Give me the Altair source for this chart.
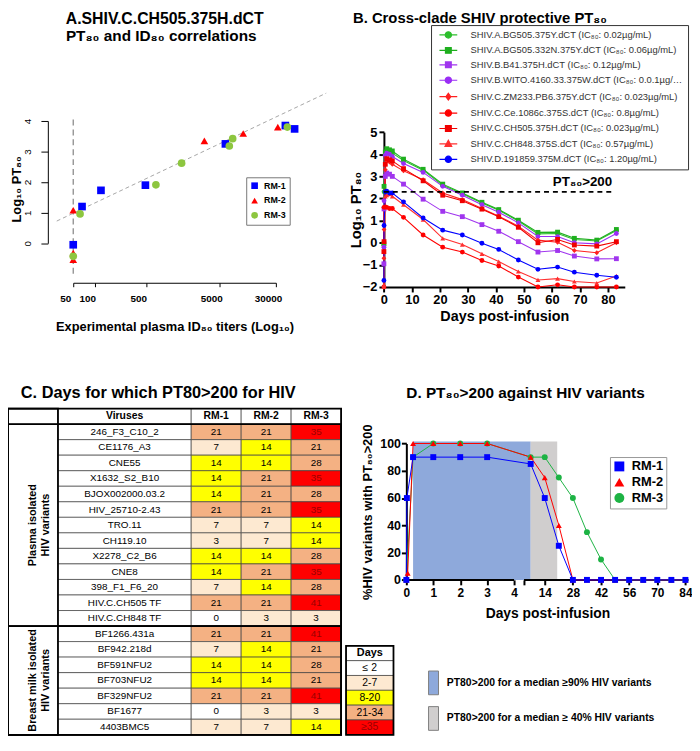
import altair as alt
import pandas as pd

W, H = 692, 732
FONT = "Liberation Sans"

# ============================ DATA ============================
# ---- Panel A : PT80 vs experimental plasma ID80 titers
A_ANIMALS = ["RM-1", "RM-2", "RM-3"]
A_RM1_ID80 = [50, 66, 120, 488, 6100, 40500, 54200]
A_RM1_PT80 = [-0.05, 1.2, 1.73, 1.9, 3.25, 3.85, 3.74]
A_RM2_ID80 = [50, 50, 50, 3140, 10700, 31900]
A_RM2_PT80 = [1.08, -0.32, -0.54, 3.35, 3.59, 3.8]
A_RM3_ID80 = [62, 50, 680, 1530, 6900, 7670, 43100]
A_RM3_PT80 = [0.96, -0.43, 1.91, 2.62, 3.18, 3.42, 3.8]
A_FIT_ID80 = [29.7, 147000]
A_FIT_PT80 = [0.725, 4.91]
A_LOD_ID80 = [50]
A_LOD_PT80 = [-1.0, 4.05]
A_X_TICKS = [50, 100, 500, 5000, 30000]

# ---- Panel B : cross-clade SHIV protective PT80
B_SERIES = [
    "SHIV.A.BG505.375Y.dCT (IC₈₀: 0.02µg/mL)",
    "SHIV.A.BG505.332N.375Y.dCT (IC₈₀: 0.06µg/mL)",
    "SHIV.B.B41.375H.dCT (IC₈₀: 0.12µg/mL)",
    "SHIV.B.WITO.4160.33.375W.dCT (IC₈₀: 0.0.1µg/mL)",
    "SHIV.C.ZM233.PB6.375Y.dCT (IC₈₀: 0.023µg/mL)",
    "SHIV.C.Ce.1086c.375S.dCT (IC₈₀: 0.8µg/mL)",
    "SHIV.C.CH505.375H.dCT (IC₈₀: 0.023µg/mL)",
    "SHIV.C.CH848.375S.dCT (IC₈₀: 0.57µg/mL)",
    "SHIV.D.191859.375M.dCT (IC₈₀: 1.20µg/mL)",
]
B_DAYS = [0, 0.05, 0.5, 1, 2, 3, 7, 14, 21, 28, 35, 41, 48, 55, 62, 68, 76, 83]
B_BG505_375Y = [-0.1, 2.3, 4.0, 4.15, 4.1, 4.05, 3.72, 3.28, 2.6, 2.22, 1.8, 1.47, 0.98, 0.4, 0.42, 0.15, 0.08, 0.55]
B_BG505_332N = [-0.05, 2.55, 4.1, 4.25, 4.2, 4.15, 3.78, 3.32, 2.65, 2.25, 1.83, 1.5, 1.02, 0.47, 0.48, 0.2, 0.12, 0.6]
B_B41 = [-0.95, 1.53, 3.0, 3.15, 3.1, 3.0, 2.65, 1.97, 1.42, 1.18, 0.82, 0.52, 0.05, -0.42, -0.35, -0.6, -0.73, -0.72]
B_WITO = [-0.2, 1.9, 3.95, 4.05, 4.0, 3.9, 3.58, 3.18, 2.55, 2.15, 1.72, 1.38, 0.9, 0.28, 0.28, 0.0, -0.05, 0.42]
B_ZM233 = [-0.7, 0.6, 3.3, 3.7, 3.65, 3.55, 3.25, 2.85, 2.25, 1.95, 1.55, 1.2, 0.75, 0.12, 0.02, -0.35, -0.45, 0.0]
B_CE1086 = [-2.0, 1.6, 1.62, 1.6, 1.55, 1.55, 1.15, 0.35, -0.2, -0.42, -0.8, -1.05, -1.55, -2.0, -1.9, -2.0, -2.0, -2.0]
B_CH505 = [-0.4, 0.05, 3.55, 3.8, 3.75, 3.7, 3.35, 2.8, 2.15, 1.9, 1.52, 1.18, 0.7, 0.0, 0.15, -0.1, -0.15, 0.05]
B_CH848 = [-2.0, -1.9, 2.1, 2.15, 2.2, 2.1, 1.72, 1.05, 0.2, -0.08, -0.5, -0.85, -1.3, -1.68, -1.62, -1.75, -1.82, -1.5]
B_191859 = [-1.7, 0.78, 2.3, 2.33, 2.25, 2.25, 1.85, 1.12, 0.57, 0.35, -0.02, -0.3, -0.78, -1.2, -1.1, -1.33, -1.47, -1.56]
B_VALUES = [B_BG505_375Y, B_BG505_332N, B_B41, B_WITO, B_ZM233, B_CE1086, B_CH505, B_CH848, B_191859]
B_THRESHOLD = 2.3
B_THRESHOLD_END = 81.5

# ---- Panel C : days with PT80>200
PLASMA_VIRUSES = ["246_F3_C10_2", "CE1176_A3", "CNE55", "X1632_S2_B10", "BJOX002000.03.2",
                  "HIV_25710-2.43", "TRO.11", "CH119.10", "X2278_C2_B6", "CNE8",
                  "398_F1_F6_20", "HIV.C.CH505 TF", "HIV.C.CH848 TF"]
MILK_VIRUSES = ["BF1266.431a", "BF942.218d", "BF591NFU2", "BF703NFU2", "BF329NFU2", "BF1677", "4403BMC5"]
RM1_DAYS = [21, 7, 14, 14, 14, 21, 7, 3, 14, 14, 7, 21, 0, 21, 7, 14, 14, 21, 0, 7]
RM2_DAYS = [21, 14, 14, 21, 21, 21, 7, 7, 14, 21, 14, 21, 3, 21, 14, 14, 14, 21, 3, 7]
RM3_DAYS = [35, 21, 28, 35, 28, 35, 14, 14, 28, 35, 28, 41, 3, 41, 21, 28, 21, 41, 3, 14]
GROUP_LABELS = ["Plasma isolated\nHIV variants", "Breast milk isolated\nHIV variants"]
TABLE_HEADER = ["Viruses", "RM-1", "RM-2", "RM-3"]
DAY_BINS = ["≤ 2", "2-7", "8-20", "21-34", "≥35"]

# ---- Panel D : % variants with PT80>200
D_ANIMALS = ["RM-1", "RM-2", "RM-3"]
D_RM1_DAYS = [0, 0.02, 0.25, 1, 2, 3, 7, 14, 21, 28, 35, 42, 49, 56, 63, 70, 77, 84]
D_RM1_PCT = [0, 60, 90, 90, 90, 90, 85, 60, 25, 0, 0, 0, 0, 0, 0, 0, 0, 0]
D_RM2_DAYS = [0, 0.05, 0.25, 1, 2, 3, 7, 14, 21, 28, 35, 42, 49, 56, 63, 70, 77, 84]
D_RM2_PCT = [0, 5, 100, 100, 100, 100, 90, 75, 40, 0, 0, 0, 0, 0, 0, 0, 0, 0]
D_RM3_DAYS = [0, 0.25, 1, 2, 3, 7, 14, 21, 28, 35, 42, 49, 56, 63, 70, 77, 84]
D_RM3_PCT = [0, 90, 100, 100, 100, 90, 90, 75, 60, 35, 15, 0, 0, 0, 0, 0, 0]
D_SHADE_LABELS = ["PT80>200 for a median ≥90% HIV variants", "PT80>200 for a median ≥ 40% HIV variants"]
D_SHADE_START = [0.25, 7]
D_SHADE_END = [7, 20.2]
D_SHADE_TOP = 101.4
D_X_TICKS = [0, 1, 2, 3, 4, 5.8, 14, 28, 42, 56, 70, 84]
D_AXIS_SEG_START = [0, 5.8]
D_AXIS_SEG_END = [4, 85.5]

# ============================ STYLE / LAYOUT ============================
A_COLORS = ["#0000FF", "#FF0000", "#8DC63F"]
A_SHAPES = ["square", "triangle-up", "circle"]
B_COLORS = ["#2CBE2C", "#1FAF1F", "#A035EE", "#9A2EF5", "#FF2020", "#FF0000", "#F00000", "#FF3030", "#0000FF"]
B_SHAPES = ["circle", "square", "square", "circle", "diamond", "circle", "square", "triangle-up", "circle"]
LINE = "M-2,0H2"
P_CIRCLE = "M-0.7,0A0.7,0.7,0,1,0,0.7,0A0.7,0.7,0,1,0,-0.7,0Z"
P_SQUARE = "M-0.65,-0.65H0.65V0.65H-0.65Z"
P_DIAMOND = "M0,-0.75L0.55,0L0,0.75L-0.55,0Z"
P_TRI = "M0,-0.8L0.75,0.55H-0.75Z"
B_LEG_PATHS = [LINE + p for p in [P_CIRCLE, P_SQUARE, P_SQUARE, P_CIRCLE, P_DIAMOND,
                                  P_CIRCLE, P_SQUARE, P_TRI, P_CIRCLE]]
BIN_COLORS = ["#FFFFFF", "#FDE9D1", "#FFFF00", "#F4B183", "#FF0000"]
D_COLORS = ["#0000FF", "#FF0000", "#1DB344"]
D_SHADE_COLORS = ["#8EA9DB", "#D0CECE"]

A_XRANGE, A_YRANGE = [66, 271], [233.7, 110]
A_XAXIS_Y, A_YAXIS_X = 273.7, 40.3
B_XRANGE, B_YRANGE = [380.3, 624.0], [278.0, 121.3]
C_XRANGE, C_YRANGE = [0, 337], [401, 731]
C_COL_EDGES = [0, 3, 11, 14, 17, 20]
C_LEG_XRANGE, C_LEG_YRANGE = [342, 390], [641, 731]
D_XDOMAIN, D_XRANGE = [0, 4, 7, 85.5], [403, 512, 528.8, 688.4]
D_YRANGE = [574.3, 436.3]


def label(text, x, y, size, weight="bold", align="left", baseline="alphabetic"):
    return alt.Chart(pd.DataFrame({"t": [text]})).mark_text(
        align=align, baseline=baseline, fontSize=size, fontWeight=weight, color="black"
    ).encode(x=alt.value(x), y=alt.value(y), text="t:N")


layers = []

# ============================ PANEL A ============================
dfA = pd.DataFrame({
    "rm": ["RM-1"] * len(A_RM1_ID80) + ["RM-2"] * len(A_RM2_ID80) + ["RM-3"] * len(A_RM3_ID80),
    "id80": A_RM1_ID80 + A_RM2_ID80 + A_RM3_ID80,
    "pt80": A_RM1_PT80 + A_RM2_PT80 + A_RM3_PT80,
})
a_xs = alt.Scale(type="log", domain=[50, 30000], range=A_XRANGE, nice=False)
a_ys = alt.Scale(domain=[0, 4], range=A_YRANGE, nice=False, zero=False)
axA_x = alt.Axis(orient="bottom", offset=A_XAXIS_Y - H, values=A_X_TICKS, format="d", grid=False,
                 domainColor="black", tickColor="black", tickSize=4, labelFontSize=10,
                 labelFontWeight="bold", labelColor="black", labelPadding=7, labelOffset=-8,
                 labelFlush=False, labelOverlap=False,
                 title="Experimental  plasma ID₈₀ titers (Log₁₀)", titleFontSize=13,
                 titleFontWeight="bold", titleColor="black", titleY=44, titleBaseline="middle")
axA_y = alt.Axis(orient="left", offset=-A_YAXIS_X, values=[0, 1, 2, 3, 4], grid=False,
                 domainColor="black", tickColor="black", tickSize=7, labelAngle=270,
                 labelAlign="center", labelBaseline="middle", labelFontSize=10,
                 labelColor="black", labelPadding=14, labelFlush=False, labelOverlap=False,
                 title="Log₁₀ PT₈₀", titleFontSize=13, titleFontWeight="bold", titleColor="black",
                 titleAngle=270, titleX=-31.5, titleY=178.7, titleBaseline="middle",
                 titleAlign="center")
legA = alt.Legend(orient="none", legendX=241, legendY=167, title=None, padding=4,
                  strokeColor="#777777", fillColor="white", labelFontSize=9,
                  labelFontWeight="bold", labelColor="black", symbolSize=45, rowPadding=5,
                  labelOffset=5)
layers.append(alt.Chart(pd.DataFrame({"x": A_LOD_ID80, "y": A_LOD_PT80[:1], "y2": A_LOD_PT80[1:]}))
              .mark_rule(color="#8c8c8c", strokeDash=[6, 4], strokeWidth=1.3)
              .encode(x=alt.X("x:Q", scale=a_xs, axis=None), y=alt.Y("y:Q", scale=a_ys, axis=None),
                      y2="y2:Q"))
layers.append(alt.Chart(pd.DataFrame({"x": A_FIT_ID80, "y": A_FIT_PT80}))
              .mark_line(color="#a6a6a6", strokeDash=[4, 3], strokeWidth=1)
              .encode(x=alt.X("x:Q", scale=a_xs, axis=None), y=alt.Y("y:Q", scale=a_ys, axis=None)))
layers.append(alt.Chart(dfA).mark_point(filled=True, size=60, opacity=1).encode(
    x=alt.X("id80:Q", scale=a_xs, axis=axA_x),
    y=alt.Y("pt80:Q", scale=a_ys, axis=axA_y),
    color=alt.Color("rm:N", scale=alt.Scale(domain=A_ANIMALS, range=A_COLORS), legend=legA),
    shape=alt.Shape("rm:N", scale=alt.Scale(domain=A_ANIMALS, range=A_SHAPES), legend=legA),
))
layers.append(label("A.SHIV.C.CH505.375H.dCT", 158.5, 12, 16, align="center"))
layers.append(label("PT₈₀ and ID₈₀ correlations", 155, 29, 15.5, align="center"))

# ============================ PANEL B ============================
b_rows = []
for name, vals in zip(B_SERIES, B_VALUES):
    for t, v in zip(B_DAYS, vals):
        b_rows.append({"s": name, "t": t, "v": v})
dfB = pd.DataFrame(b_rows)
b_xs = alt.Scale(domain=[0, 86], range=B_XRANGE, nice=False, zero=False)
b_ys = alt.Scale(domain=[-2, 5], range=B_YRANGE, nice=False, zero=False)
b_cs = alt.Scale(domain=B_SERIES, range=B_COLORS)
axB_x = alt.Axis(orient="bottom", offset=B_YRANGE[0] - H, values=list(range(0, 81, 10)),
                 grid=False, domainColor="black", domainWidth=2, tickColor="black", tickWidth=2,
                 tickSize=5, labelFontSize=13, labelFontWeight="bold", labelColor="black",
                 labelPadding=2, labelFlush=False, labelOverlap=False,
                 title="Days post-infusion", titleFontSize=14.5, titleFontWeight="bold",
                 titleColor="black", titleY=30, titleBaseline="middle")
axB_y = alt.Axis(orient="left", offset=-B_XRANGE[0], values=list(range(-2, 6)), grid=False,
                 domainColor="black", domainWidth=2, tickColor="black", tickWidth=2, tickSize=5,
                 labelFontSize=13, labelFontWeight="bold", labelColor="black", labelPadding=2,
                 labelFlush=False, labelOverlap=False,
                 title="Log₁₀ PT₈₀", titleFontSize=15, titleFontWeight="bold", titleColor="black",
                 titleAngle=270, titleX=-29, titleBaseline="middle", titleAlign="center")
layers.append(alt.Chart(dfB).mark_line(strokeWidth=1.1).encode(
    x=alt.X("t:Q", scale=b_xs, axis=axB_x), y=alt.Y("v:Q", scale=b_ys, axis=axB_y),
    color=alt.Color("s:N", scale=b_cs, legend=None)))
layers.append(alt.Chart(dfB).mark_point(filled=True, size=24, opacity=1).encode(
    x=alt.X("t:Q", scale=b_xs, axis=None), y=alt.Y("v:Q", scale=b_ys, axis=None),
    color=alt.Color("s:N", scale=b_cs, legend=None),
    shape=alt.Shape("s:N", scale=alt.Scale(domain=B_SERIES, range=B_SHAPES), legend=None)))
layers.append(alt.Chart(pd.DataFrame({"x": [0], "x2": [B_THRESHOLD_END], "y": [B_THRESHOLD]}))
              .mark_rule(color="black", strokeDash=[5, 4], strokeWidth=2)
              .encode(x=alt.X("x:Q", scale=b_xs, axis=None), x2="x2:Q",
                      y=alt.Y("y:Q", scale=b_ys, axis=None)))
layers.append(alt.Chart(pd.DataFrame({"x": [B_THRESHOLD_END], "y": [B_THRESHOLD], "t": ["PT₈₀>200"]}))
              .mark_text(align="right", baseline="bottom", dy=-3, fontSize=13.5, fontWeight="bold",
                         color="black")
              .encode(x=alt.X("x:Q", scale=b_xs, axis=None), y=alt.Y("y:Q", scale=b_ys, axis=None),
                      text="t:N"))
legB = alt.Legend(orient="none", legendX=428, legendY=13, title=None, padding=4.5,
                  strokeColor="#333333", fillColor="white", labelFontSize=9.5, labelColor="#333333",
                  labelLimit=220, symbolSize=81, symbolStrokeWidth=1.2, symbolOffset=7.5,
                  labelOffset=17, rowPadding=3.6)
layers.append(alt.Chart(pd.DataFrame({"s": B_SERIES, "px": [None] * len(B_SERIES),
                                      "py": [None] * len(B_SERIES)}))
              .mark_point(filled=True, opacity=1).encode(
    x=alt.X("px:Q", scale=b_xs, axis=None), y=alt.Y("py:Q", scale=b_ys, axis=None),
    color=alt.Color("s:N", scale=b_cs, legend=legB),
    stroke=alt.Stroke("s:N", scale=b_cs, legend=legB),
    shape=alt.Shape("s:N", scale=alt.Scale(domain=B_SERIES, range=B_LEG_PATHS), legend=legB)))
layers.append(label("B. Cross-clade SHIV protective PT₈₀", 349, 11, 15))

# ============================ PANEL C ============================
def day_bin(v):
    if v <= 2:
        return DAY_BINS[0]
    if v <= 7:
        return DAY_BINS[1]
    if v <= 20:
        return DAY_BINS[2]
    if v <= 34:
        return DAY_BINS[3]
    return DAY_BINS[4]


viruses = PLASMA_VIRUSES + MILK_VIRUSES
cells = []
cells.append({"x0": C_COL_EDGES[0], "x1": C_COL_EDGES[1], "r0": 0, "r1": 1, "cat": "blank",
              "label": "", "hdr": True})
for j, h in enumerate(TABLE_HEADER):
    cells.append({"x0": C_COL_EDGES[j + 1], "x1": C_COL_EDGES[j + 2], "r0": 0, "r1": 1,
                  "cat": "blank", "label": h, "hdr": True})
for i, v in enumerate(viruses):
    r = i + 1
    cells.append({"x0": C_COL_EDGES[1], "x1": C_COL_EDGES[2], "r0": r, "r1": r + 1,
                  "cat": "blank", "label": v, "hdr": False})
    for j, days in enumerate([RM1_DAYS, RM2_DAYS, RM3_DAYS]):
        cells.append({"x0": C_COL_EDGES[j + 2], "x1": C_COL_EDGES[j + 3], "r0": r, "r1": r + 1,
                      "cat": day_bin(days[i]), "label": str(days[i]), "hdr": False})
dfC = pd.DataFrame(cells)
dfC["xc"] = (dfC["x0"] + dfC["x1"]) / 2
dfC["rc"] = (dfC["r0"] + dfC["r1"]) / 2
c_xs = alt.Scale(domain=[C_COL_EDGES[0], C_COL_EDGES[-1]], range=C_XRANGE, nice=False, zero=False)
c_ys = alt.Scale(domain=[0, len(viruses) + 1], range=C_YRANGE, nice=False, zero=False)
bin_scale = alt.Scale(domain=DAY_BINS + ["blank"], range=BIN_COLORS + ["#FFFFFF"])
layers.append(alt.Chart(dfC).mark_rect(stroke="#404040", strokeWidth=0.7).encode(
    x=alt.X("x0:Q", scale=c_xs, axis=None), x2="x1:Q",
    y=alt.Y("r0:Q", scale=c_ys, axis=None), y2="r1:Q",
    color=alt.Color("cat:N", scale=bin_scale, legend=None)))
layers.append(alt.Chart(dfC[~dfC["hdr"]]).mark_text(fontSize=10).encode(
    x=alt.X("xc:Q", scale=c_xs, axis=None), y=alt.Y("rc:Q", scale=c_ys, axis=None),
    text="label:N",
    color=alt.condition(alt.datum.cat == DAY_BINS[4], alt.value("#990000"), alt.value("black"))))
layers.append(alt.Chart(dfC[dfC["hdr"]]).mark_text(fontSize=10.5, fontWeight="bold", color="black")
              .encode(x=alt.X("xc:Q", scale=c_xs, axis=None), y=alt.Y("rc:Q", scale=c_ys, axis=None),
                      text="label:N"))
n_pl, n_all = len(PLASMA_VIRUSES), len(viruses)
groups = pd.DataFrame({
    "x0": [C_COL_EDGES[0]] * 2, "x1": [C_COL_EDGES[1]] * 2,
    "r0": [1, 1 + n_pl], "r1": [1 + n_pl, 1 + n_all], "label": GROUP_LABELS,
})
groups["xc"] = (groups["x0"] + groups["x1"]) / 2
groups["rc"] = (groups["r0"] + groups["r1"]) / 2
frames = pd.DataFrame({
    "x0": [C_COL_EDGES[0]] * 4, "x1": [C_COL_EDGES[-1]] * 3 + [C_COL_EDGES[1]],
    "r0": [0, 1, 1 + n_pl, 0], "r1": [1 + n_all, 1 + n_pl, 1 + n_all, 1 + n_all],
})
layers.append(alt.Chart(frames).mark_rect(fillOpacity=0, stroke="black", strokeWidth=1.8).encode(
    x=alt.X("x0:Q", scale=c_xs, axis=None), x2="x1:Q",
    y=alt.Y("r0:Q", scale=c_ys, axis=None), y2="r1:Q"))
layers.append(alt.Chart(groups).mark_text(angle=270, fontSize=11, fontWeight="bold", color="black",
                                          lineBreak="\n", lineHeight=13).encode(
    x=alt.X("xc:Q", scale=c_xs, axis=None), y=alt.Y("rc:Q", scale=c_ys, axis=None), text="label:N"))
# Days colour key
key = pd.DataFrame({"label": ["Days"] + DAY_BINS, "cat": ["blank"] + DAY_BINS,
                    "r0": list(range(len(DAY_BINS) + 1))})
key["r1"] = key["r0"] + 1
key["rc"] = key["r0"] + 0.5
key["x0"], key["x1"], key["xc"] = 0, 1, 0.5
k_xs = alt.Scale(domain=[0, 1], range=C_LEG_XRANGE, nice=False, zero=False)
k_ys = alt.Scale(domain=[0, len(DAY_BINS) + 1], range=C_LEG_YRANGE, nice=False, zero=False)
layers.append(alt.Chart(key).mark_rect(stroke="#404040", strokeWidth=0.7).encode(
    x=alt.X("x0:Q", scale=k_xs, axis=None), x2="x1:Q",
    y=alt.Y("r0:Q", scale=k_ys, axis=None), y2="r1:Q",
    color=alt.Color("cat:N", scale=bin_scale, legend=None)))
layers.append(alt.Chart(key.iloc[[0]]).mark_rect(fillOpacity=0, stroke="black", strokeWidth=1.8)
              .encode(x=alt.X("x0:Q", scale=k_xs, axis=None), x2="x1:Q",
                      y=alt.Y("r0:Q", scale=k_ys, axis=None), y2=alt.Y2(datum=len(DAY_BINS) + 1)))
layers.append(alt.Chart(key.iloc[1:]).mark_text(fontSize=10.5).encode(
    x=alt.X("xc:Q", scale=k_xs, axis=None), y=alt.Y("rc:Q", scale=k_ys, axis=None), text="label:N",
    color=alt.condition(alt.datum.cat == DAY_BINS[4], alt.value("#990000"), alt.value("black"))))
layers.append(alt.Chart(key.iloc[[0]]).mark_text(fontSize=11, fontWeight="bold", color="black").encode(
    x=alt.X("xc:Q", scale=k_xs, axis=None), y=alt.Y("rc:Q", scale=k_ys, axis=None), text="label:N"))
layers.append(label("C. Days for which PT80>200 for HIV", 13, 390, 16.5))

# ============================ PANEL D ============================
d_xs = alt.Scale(domain=D_XDOMAIN, range=D_XRANGE, nice=False, zero=False)
d_ys = alt.Scale(domain=[0, 100], range=D_YRANGE, nice=False, zero=False)
dfShade = pd.DataFrame({"lab": D_SHADE_LABELS, "x0": D_SHADE_START, "x1": D_SHADE_END,
                        "y0": [0, 0], "y1": [D_SHADE_TOP] * 2})
legShade = alt.Legend(orient="none", legendX=418, legendY=666, title=None, padding=0,
                      symbolType="M-0.42,-1H0.42V1H-0.42Z", symbolSize=576,
                      symbolStrokeColor="#7f7f7f", symbolStrokeWidth=1, labelFontSize=10.5,
                      labelFontWeight="bold", labelColor="black", labelLimit=400, rowPadding=7,
                      labelOffset=1)
layers.append(alt.Chart(dfShade).mark_rect(opacity=1).encode(
    x=alt.X("x0:Q", scale=d_xs, axis=None), x2="x1:Q",
    y=alt.Y("y0:Q", scale=d_ys, axis=None), y2="y1:Q",
    color=alt.Color("lab:N", scale=alt.Scale(domain=D_SHADE_LABELS, range=D_SHADE_COLORS),
                    legend=legShade)))
layers.append(alt.Chart(pd.DataFrame({"x": D_AXIS_SEG_START, "x2": D_AXIS_SEG_END, "y": [0, 0]}))
              .mark_rule(color="black", strokeWidth=2)
              .encode(x=alt.X("x:Q", scale=d_xs, axis=None), x2="x2:Q",
                      y=alt.Y("y:Q", scale=d_ys, axis=None)))
dfD = pd.DataFrame({
    "rm": ["RM-3"] * len(D_RM3_DAYS) + ["RM-2"] * len(D_RM2_DAYS) + ["RM-1"] * len(D_RM1_DAYS),
    "day": D_RM3_DAYS + D_RM2_DAYS + D_RM1_DAYS,
    "pct": D_RM3_PCT + D_RM2_PCT + D_RM1_PCT,
})
d_cs = alt.Scale(domain=D_ANIMALS, range=D_COLORS)
axD_x = alt.Axis(orient="bottom", offset=D_YRANGE[0] - H, values=D_X_TICKS, grid=False, domain=False,
                 tickColor="black", tickWidth=2, tickSize=5, labelFontSize=12,
                 labelFontWeight="bold", labelColor="black", labelPadding=3, labelFlush=False,
                 labelOverlap=False, labelExpr="datum.value == 5.8 ? '' : datum.label",
                 title="Days post-infusion", titleFontSize=14, titleFontWeight="bold",
                 titleColor="black", titleY=33.7, titleBaseline="middle")
axD_y = alt.Axis(orient="left", offset=-D_XRANGE[0], values=list(range(0, 101, 20)), grid=False,
                 domainColor="black", domainWidth=2, tickColor="black", tickWidth=2, tickSize=5,
                 labelFontSize=12.5, labelFontWeight="bold", labelColor="black", labelPadding=1,
                 labelFlush=False, labelOverlap=False,
                 title="%HIV variants with PT₈₀>200", titleFontSize=13, titleFontWeight="bold",
                 titleColor="black", titleAngle=270, titleX=-39, titleBaseline="middle",
                 titleAlign="center")
layers.append(alt.Chart(dfD).mark_line(strokeWidth=1).encode(
    x=alt.X("day:Q", scale=d_xs, axis=axD_x), y=alt.Y("pct:Q", scale=d_ys, axis=axD_y),
    color=alt.Color("rm:N", scale=d_cs, legend=None), detail="rm:N"))
legD = alt.Legend(orient="none", legendX=609, legendY=450, title=None, padding=3,
                  strokeColor="#999999", fillColor="white", labelFontSize=13,
                  labelFontWeight="bold", labelColor="black", symbolSize=100, rowPadding=2,
                  labelOffset=6)
layers.append(alt.Chart(dfD).mark_point(filled=True, size=36, opacity=1).encode(
    x=alt.X("day:Q", scale=d_xs, axis=None), y=alt.Y("pct:Q", scale=d_ys, axis=None),
    color=alt.Color("rm:N", scale=d_cs, legend=legD),
    shape=alt.Shape("rm:N", scale=alt.Scale(domain=D_ANIMALS, range=A_SHAPES), legend=legD)))
layers.append(label("D. PT₈₀>200 against HIV variants", 403, 390, 15.5))

# ============================ ASSEMBLE ============================
chart = alt.layer(*layers).resolve_scale(
    x="independent", y="independent", color="independent", shape="independent",
    stroke="independent"
).resolve_axis(x="independent", y="independent").resolve_legend(
    color="independent", shape="independent", stroke="independent"
).properties(
    width=W, height=H, padding=0, autosize=alt.AutoSizeParams(type="none")
).configure(font=FONT).configure_view(strokeWidth=0)

chart.save("out.html", embed_options={"renderer": "svg", "actions": False})
